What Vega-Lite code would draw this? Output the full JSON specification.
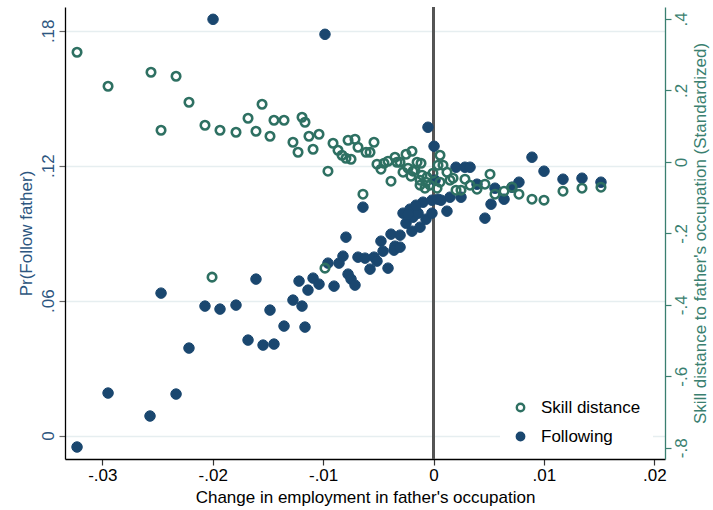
{
"$schema": "https://vega.github.io/schema/vega-lite/v6.json",
"width": 600, "height": 452,
"autosize": "none",
"padding": {"left": 65, "top": 7, "right": 48, "bottom": 51},
"background": "white",
"config": {
 "view": {"stroke": null},
 "font": "Liberation Sans",
 "axis": {"labelFont": "Liberation Sans", "titleFont": "Liberation Sans", "labelFontSize": 17, "titleFontSize": 17, "titleFontWeight": "normal", "grid": false, "labelFlush": false, "labelOverlap": false},
 "legend": {"orient": "none", "legendX": 435, "legendY": 380, "fillColor": "white", "padding": 12, "labelFontSize": 17, "labelFont": "Liberation Sans", "labelColor": "black", "symbolSize": 55, "symbolStrokeWidth": 2.4, "symbolOpacity": 1, "rowPadding": 10, "labelOffset": 12}
},
"data": {"values": [
{"g":"Following","x":-0.03229,"y":-0.00511},{"g":"Following","x":-0.02948,"y":0.01889},{"g":"Following","x":-0.02568,"y":0.00867},{"g":"Following","x":-0.02332,"y":0.01844},{"g":"Following","x":-0.02468,"y":0.06333},{"g":"Following","x":-0.02215,"y":0.03889},{"g":"Following","x":-0.0207,"y":0.05756},{"g":"Following","x":-0.01934,"y":0.05622},{"g":"Following","x":-0.01789,"y":0.058},{"g":"Following","x":-0.0168,"y":0.04244},{"g":"Following","x":-0.01608,"y":0.06956},{"g":"Following","x":-0.01544,"y":0.04022},{"g":"Following","x":-0.01445,"y":0.04067},{"g":"Following","x":-0.01481,"y":0.05578},{"g":"Following","x":-0.01354,"y":0.04867},{"g":"Following","x":-0.01218,"y":0.06867},{"g":"Following","x":-0.01273,"y":0.06022},{"g":"Following","x":-0.01191,"y":0.05756},{"g":"Following","x":-0.01164,"y":0.04822},{"g":"Following","x":-0.01091,"y":0.07},{"g":"Following","x":-0.01037,"y":0.06733},{"g":"Following","x":-0.01137,"y":0.06467},{"g":"Following","x":-0.00956,"y":0.07667},{"g":"Following","x":-0.00856,"y":0.07667},{"g":"Following","x":-0.0082,"y":0.07978},{"g":"Following","x":-0.00901,"y":0.06644},{"g":"Following","x":-0.00793,"y":0.08822},{"g":"Following","x":-0.00774,"y":0.07178},{"g":"Following","x":-0.00747,"y":0.06956},{"g":"Following","x":-0.00711,"y":0.06689},{"g":"Following","x":-0.00684,"y":0.07933},{"g":"Following","x":-0.0062,"y":0.07889},{"g":"Following","x":-0.00575,"y":0.074},{"g":"Following","x":-0.00539,"y":0.07933},{"g":"Following","x":-0.00512,"y":0.07756},{"g":"Following","x":-0.00412,"y":0.07444},{"g":"Following","x":-0.00457,"y":0.082},{"g":"Following","x":-0.00476,"y":0.08644},{"g":"Following","x":-0.00385,"y":0.08956},{"g":"Following","x":-0.00349,"y":0.08422},{"g":"Following","x":-0.00358,"y":0.08244},{"g":"Following","x":-0.00303,"y":0.08911},{"g":"Following","x":-0.00303,"y":0.08378},{"g":"Following","x":-0.00276,"y":0.09889},{"g":"Following","x":-0.00213,"y":0.10067},{"g":"Following","x":-0.00249,"y":0.09444},{"g":"Following","x":-0.00195,"y":0.09089},{"g":"Following","x":-0.00186,"y":0.09711},{"g":"Following","x":-0.0014,"y":0.09889},{"g":"Following","x":-0.00122,"y":0.09267},{"g":"Following","x":-0.00068,"y":0.09622},{"g":"Following","x":-0.00095,"y":0.10378},{"g":"Following","x":-0.00014,"y":0.09889},{"g":"Following","x":-0.00014,"y":0.10467},{"g":"Following","x":0.00041,"y":0.10511},{"g":"Following","x":0.00068,"y":0.10467},{"g":"Following","x":0.00122,"y":0.09978},{"g":"Following","x":0.00149,"y":0.106},{"g":"Following","x":0.00249,"y":0.106},{"g":"Following","x":0.00204,"y":0.11933},{"g":"Following","x":0.00285,"y":0.11933},{"g":"Following","x":0.00331,"y":0.11933},{"g":"Following","x":0.00394,"y":0.11178},{"g":"Following","x":0.00466,"y":0.09667},{"g":"Following","x":0.00521,"y":0.10289},{"g":"Following","x":0.00557,"y":0.11},{"g":"Following","x":0.00639,"y":0.10511},{"g":"Following","x":0.00711,"y":0.11044},{"g":"Following","x":0.00774,"y":0.11267},{"g":"Following","x":0.00892,"y":0.12378},{"g":"Following","x":0.01001,"y":0.11756},{"g":"Following","x":0.01173,"y":0.114},{"g":"Following","x":0.01345,"y":0.11444},{"g":"Following","x":0.01517,"y":0.11267},{"g":"Following","x":-0.0005,"y":0.13711},{"g":"Following","x":0.00005,"y":0.12867},{"g":"Following","x":-0.00639,"y":0.10156},{"g":"Following","x":-0.01997,"y":0.18511},{"g":"Following","x":-0.00983,"y":0.17844},{"g":"Following","x":0.00014,"y":0.11356},{"g":"Following","x":-0.00159,"y":0.10244},{"g":"Following","x":-0.00231,"y":0.09844},
{"g":"Skill distance","x":-0.03229,"y":0.30685},{"g":"Skill distance","x":-0.02948,"y":0.21175},{"g":"Skill distance","x":-0.02559,"y":0.25091},{"g":"Skill distance","x":-0.02468,"y":0.08867},{"g":"Skill distance","x":-0.02332,"y":0.23972},{"g":"Skill distance","x":-0.02215,"y":0.16699},{"g":"Skill distance","x":-0.0207,"y":0.10266},{"g":"Skill distance","x":-0.01934,"y":0.08867},{"g":"Skill distance","x":-0.01789,"y":0.08308},{"g":"Skill distance","x":-0.0168,"y":0.12224},{"g":"Skill distance","x":-0.01608,"y":0.08587},{"g":"Skill distance","x":-0.01553,"y":0.1614},{"g":"Skill distance","x":-0.01481,"y":0.07189},{"g":"Skill distance","x":-0.01445,"y":0.11664},{"g":"Skill distance","x":-0.01354,"y":0.11664},{"g":"Skill distance","x":-0.01191,"y":0.12503},{"g":"Skill distance","x":-0.01164,"y":0.11105},{"g":"Skill distance","x":-0.01273,"y":0.0551},{"g":"Skill distance","x":-0.01227,"y":0.02713},{"g":"Skill distance","x":-0.01128,"y":0.07189},{"g":"Skill distance","x":-0.01091,"y":0.03552},{"g":"Skill distance","x":-0.01037,"y":0.07748},{"g":"Skill distance","x":-0.00956,"y":-0.02601},{"g":"Skill distance","x":-0.0091,"y":0.05231},{"g":"Skill distance","x":-0.00865,"y":0.03273},{"g":"Skill distance","x":-0.00829,"y":0.01874},{"g":"Skill distance","x":-0.00793,"y":0.01035},{"g":"Skill distance","x":-0.00747,"y":0.00755},{"g":"Skill distance","x":-0.00774,"y":0.0607},{"g":"Skill distance","x":-0.00711,"y":0.0635},{"g":"Skill distance","x":-0.00684,"y":0.04112},{"g":"Skill distance","x":-0.00611,"y":0.02713},{"g":"Skill distance","x":-0.00575,"y":0.02713},{"g":"Skill distance","x":-0.00539,"y":0.0551},{"g":"Skill distance","x":-0.00512,"y":-0.00643},{"g":"Skill distance","x":-0.00476,"y":-0.02042},{"g":"Skill distance","x":-0.00448,"y":-0.00364},{"g":"Skill distance","x":-0.00412,"y":0.00196},{"g":"Skill distance","x":-0.00385,"y":-0.05399},{"g":"Skill distance","x":-0.00349,"y":0.01315},{"g":"Skill distance","x":-0.00331,"y":-0.00084},{"g":"Skill distance","x":-0.00303,"y":-0.00084},{"g":"Skill distance","x":-0.00276,"y":-0.02881},{"g":"Skill distance","x":-0.00249,"y":0.02154},{"g":"Skill distance","x":-0.00195,"y":0.02993},{"g":"Skill distance","x":-0.00231,"y":-0.01762},{"g":"Skill distance","x":-0.00186,"y":-0.02601},{"g":"Skill distance","x":-0.00204,"y":-0.04},{"g":"Skill distance","x":-0.00168,"y":-0.02322},{"g":"Skill distance","x":-0.00149,"y":-0.00084},{"g":"Skill distance","x":-0.00113,"y":-0.00364},{"g":"Skill distance","x":-0.00104,"y":-0.0372},{"g":"Skill distance","x":-0.00059,"y":-0.0428},{"g":"Skill distance","x":-0.00005,"y":-0.03161},{"g":"Skill distance","x":-0.00122,"y":-0.06517},{"g":"Skill distance","x":-0.00077,"y":-0.07357},{"g":"Skill distance","x":-0.00032,"y":-0.06517},{"g":"Skill distance","x":0.00032,"y":-0.07357},{"g":"Skill distance","x":0.00041,"y":-0.00923},{"g":"Skill distance","x":0.00059,"y":0.01874},{"g":"Skill distance","x":0.00086,"y":-0.00923},{"g":"Skill distance","x":0.00122,"y":-0.02881},{"g":"Skill distance","x":0.00059,"y":-0.05678},{"g":"Skill distance","x":0.00149,"y":-0.05119},{"g":"Skill distance","x":0.00177,"y":-0.04559},{"g":"Skill distance","x":0.00204,"y":-0.07916},{"g":"Skill distance","x":0.00249,"y":-0.07916},{"g":"Skill distance","x":0.00285,"y":-0.04839},{"g":"Skill distance","x":0.00331,"y":-0.06517},{"g":"Skill distance","x":0.00394,"y":-0.07636},{"g":"Skill distance","x":0.00466,"y":-0.06238},{"g":"Skill distance","x":0.00512,"y":-0.03441},{"g":"Skill distance","x":0.00557,"y":-0.09035},{"g":"Skill distance","x":0.00639,"y":-0.08196},{"g":"Skill distance","x":0.00711,"y":-0.07077},{"g":"Skill distance","x":0.00774,"y":-0.09035},{"g":"Skill distance","x":0.00892,"y":-0.10434},{"g":"Skill distance","x":0.01001,"y":-0.10713},{"g":"Skill distance","x":0.01173,"y":-0.08196},{"g":"Skill distance","x":0.01345,"y":-0.07357},{"g":"Skill distance","x":0.01517,"y":-0.07077},{"g":"Skill distance","x":-0.00639,"y":-0.09035},{"g":"Skill distance","x":-0.00983,"y":-0.29734},{"g":"Skill distance","x":-0.02006,"y":-0.32252},{"g":"Skill distance","x":-0.00122,"y":-0.05119},{"g":"Skill distance","x":-0.00068,"y":-0.05678}
]},
"layer": [
 {
  "mark": {"type": "rule", "color": "#555555", "strokeWidth": 1.6},
  "encoding": {
   "x": {"datum": 0, "type": "quantitative", "scale": {"domain": [-0.03338, 0.02097], "nice": false, "zero": false},
    "axis": {"title": "Change in employment in father's occupation", "values": [-0.03, -0.02, -0.01, 0, 0.01, 0.02], "labelExpr": "datum.value == 0 ? '0' : (datum.value < 0 ? '-' : '') + replace(format(abs(datum.value), '.2f'), '0.', '.')", "domainColor": "black", "domainWidth": 1.3, "tickColor": "#333333", "tickSize": 6, "tickWidth": 1.2, "labelColor": "black", "titleColor": "black", "labelPadding": 2, "titlePadding": 6}}
  }
 },
 {
  "transform": [{"filter": "datum.g == 'Following'"}],
  "mark": {"type": "point", "shape": "circle", "size": 110, "strokeWidth": 1, "opacity": 1, "fillOpacity": 1, "filled": true},
  "encoding": {
   "x": {"field": "x", "type": "quantitative", "scale": {"domain": [-0.03338, 0.02097], "nice": false, "zero": false}},
   "y": {"field": "y", "type": "quantitative", "scale": {"domain": [-0.01044, 0.19058], "nice": false, "zero": false},
    "axis": {"orient": "left", "title": "Pr(Follow father)", "values": [0, 0.06, 0.12, 0.18], "labelExpr": "datum.value == 0 ? '0' : replace(format(datum.value, '.2f'), '0.', '.')", "labelAngle": -90, "labelAlign": "center", "labelBaseline": "alphabetic", "labelPadding": 6, "labelColor": "#2d5680", "titleColor": "#2d5680", "domainColor": "black", "domainWidth": 1.3, "tickColor": "#666666", "tickSize": 6, "tickWidth": 1.2, "grid": true, "gridColor": "#e6eef0", "gridWidth": 1.5, "titlePadding": 4}},
   "fill": {"field": "g", "type": "nominal", "scale": {"domain": ["Skill distance", "Following"], "range": ["transparent", "#1a476f"]}, "legend": {"title": null}},
   "stroke": {"field": "g", "type": "nominal", "scale": {"domain": ["Skill distance", "Following"], "range": ["#2e7062", "#1a476f"]}, "legend": {"title": null}}
  }
 },
 {
  "transform": [{"filter": "datum.g == 'Skill distance'"}],
  "mark": {"type": "point", "shape": "circle", "size": 72, "strokeWidth": 2.6, "opacity": 1, "fillOpacity": 1, "filled": false},
  "encoding": {
   "x": {"field": "x", "type": "quantitative", "scale": {"domain": [-0.03338, 0.02097], "nice": false, "zero": false}},
   "y": {"field": "y", "type": "quantitative", "scale": {"domain": [-0.8316, 0.4336], "nice": false, "zero": false},
    "axis": {"orient": "right", "title": "Skill distance to father's occupation (Standardized)", "values": [-0.8, -0.6, -0.4, -0.2, 0, 0.2, 0.4], "labelExpr": "datum.value == 0 ? '0' : (datum.value < 0 ? '-' : '') + replace(format(abs(datum.value), '.1f'), '0.', '.')", "labelAngle": -90, "labelAlign": "center", "labelBaseline": "top", "labelPadding": 2, "labelColor": "#3a7f70", "titleColor": "#3a7f70", "titleAngle": -90, "domainColor": "#3a7f70", "domainWidth": 1.3, "tickColor": "#3a7f70", "tickSize": 6, "tickWidth": 1.2, "grid": false, "titlePadding": 20}},
   "fill": {"field": "g", "type": "nominal", "scale": {"domain": ["Skill distance", "Following"], "range": ["transparent", "#1a476f"]}, "legend": {"title": null}},
   "stroke": {"field": "g", "type": "nominal", "scale": {"domain": ["Skill distance", "Following"], "range": ["#2e7062", "#1a476f"]}, "legend": {"title": null}}
  }
 }
],
"resolve": {"scale": {"y": "independent"}}
}
